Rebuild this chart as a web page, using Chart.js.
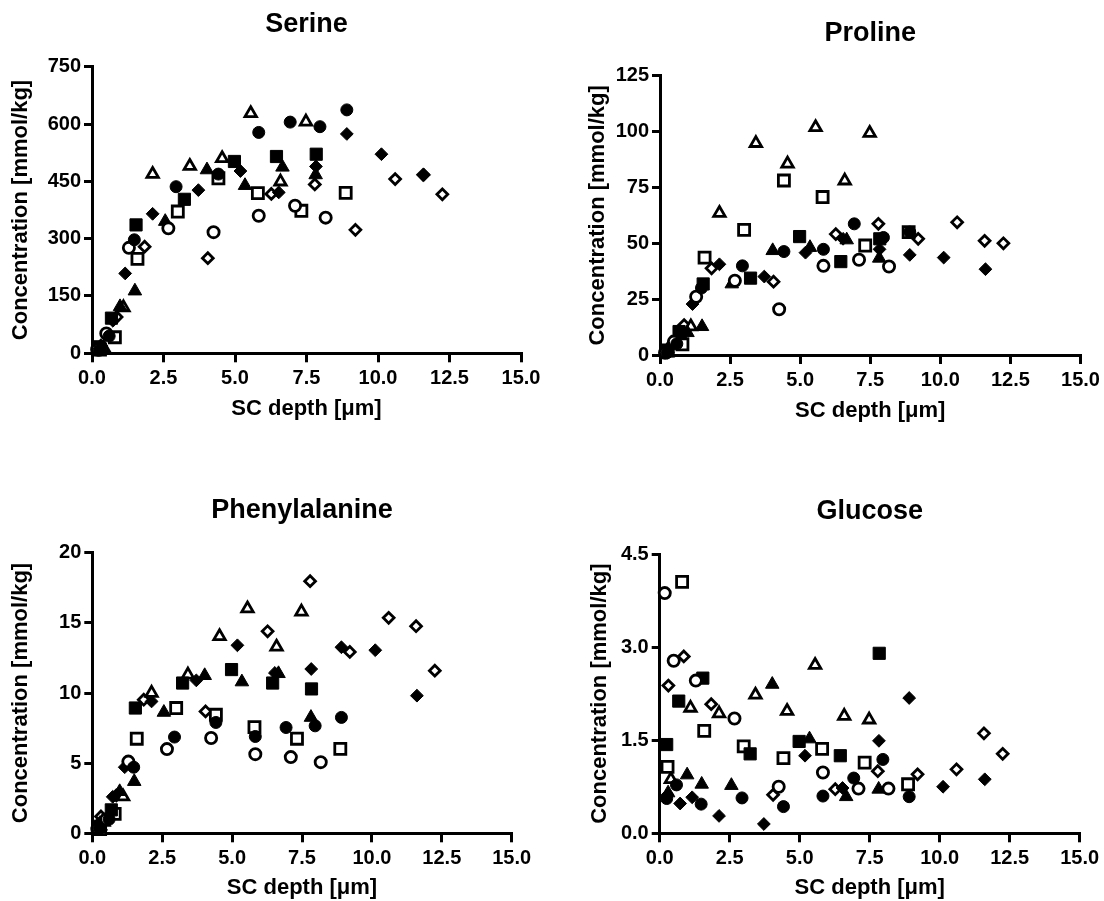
<!DOCTYPE html>
<html>
<head>
<meta charset="utf-8">
<title>Concentration vs SC depth</title>
<script src="https://cdn.jsdelivr.net/npm/chart.js@4.4.1/dist/chart.umd.min.js"></script>
<style>
    body { margin: 0; background: #fff; }
    #page { position: relative; width: 1104px; height: 901px; overflow: hidden; }
    canvas { position: absolute; }
</style>
</head>
<body>
<div id="page">
    <canvas id="serine-chart"></canvas>
    <canvas id="proline-chart"></canvas>
    <canvas id="phe-chart"></canvas>
    <canvas id="glucose-chart"></canvas>
</div>
<script>
// SC depth [um] of each tape strip, one array per subject (marker)
const depthFilledCircle = [0.25, 0.6, 1.48, 2.94, 4.42, 5.83, 6.93, 7.97, 8.91];
const depthOpenCircle   = [0.18, 0.5, 1.29, 2.67, 4.25, 5.83, 7.1, 8.17];
const depthFilledSquare = [0.25, 0.68, 1.54, 3.23, 4.98, 6.45, 7.84];
const depthOpenSquare   = [0.28, 0.8, 1.59, 3.0, 4.42, 5.8, 7.32, 8.87];
const depthFilledTri    = [0.3, 0.98, 1.5, 2.56, 4.02, 5.35, 6.66, 7.82];
const depthOpenTri      = [0.4, 1.1, 2.12, 3.42, 4.55, 5.55, 6.59, 7.48];
const depthFilledDia    = [0.28, 0.73, 1.16, 2.12, 3.72, 5.19, 6.53, 7.83, 8.91, 10.12, 11.61];
const depthOpenDia      = [0.31, 0.86, 1.84, 4.05, 6.27, 7.79, 9.21, 10.6, 11.58, 12.25];

// Serine [mmol/kg]
const serFC = [8, 45, 297, 436, 469, 578, 605, 593, 637];
const serOC = [10, 52, 276, 327, 317, 360, 386, 355];
const serFS = [17, 92, 336, 403, 502, 515, 521];
const serOS = [10, 42, 247, 371, 458, 419, 373, 420];
const serFT = [12, 122, 163, 345, 480, 439, 487, 467];
const serOT = [15, 120, 469, 490, 510, 628, 449, 606];
const serFD = [15, 85, 209, 365, 427, 477, 421, 489, 574, 521, 467];
const serOD = [20, 95, 279, 249, 417, 442, 323, 456, 467, 416];

// Proline [mmol/kg]
const proFC = [1, 5, 30, 39.9, 46.3, 47.3, 58.7, 52.6, 55];
const proOC = [1, 6, 26.1, 33.2, 20.5, 39.9, 42.6, 39.6];
const proFS = [2, 10.5, 31.8, 34.4, 53, 41.8, 52];
const proOS = [2, 4.8, 43.6, 56, 78.1, 70.7, 49, 55];
const proFT = [1, 10, 12.7, 31.8, 46.7, 48.1, 51.5, 43.3];
const proOT = [5, 12.7, 63.5, 94.8, 85.6, 101.9, 78, 99.3];
const proFD = [1, 8, 22.8, 40.6, 35.1, 45.8, 52, 47.3, 44.8, 43.6, 38.4];
const proOD = [3, 13.4, 38.8, 32.8, 54.1, 58.7, 52, 59.4, 51.1, 50];

// Phenylalanine [mmol/kg]
const pheFC = [0.3, 1.0, 4.71, 6.86, 7.9, 6.9, 7.54, 7.66, 8.26];
const pheOC = [0.3, 1.0, 5.11, 6.0, 6.79, 5.64, 5.43, 5.07];
const pheFS = [0.5, 1.67, 8.93, 10.71, 11.67, 10.71, 10.29];
const pheOS = [0.3, 1.38, 6.74, 8.93, 8.45, 7.57, 6.74, 6.02];
const pheFT = [0.5, 2.97, 3.69, 8.62, 11.24, 10.79, 11.38, 8.26];
const pheOT = [0.8, 2.62, 10.0, 11.3, 14.04, 16.02, 13.29, 15.79];
const pheFD = [0.8, 2.6, 4.71, 9.4, 10.9, 13.4, 11.43, 11.71, 13.26, 13.05, 9.81];
const pheOD = [1.2, 2.7, 9.52, 8.69, 14.4, 17.97, 12.93, 15.36, 14.76, 11.59];

// Glucose [mmol/kg]
const gluFC = [0.56, 0.78, 0.47, 0.57, 0.43, 0.60, 0.89, 1.19, 0.59];
const gluOC = [3.87, 2.78, 2.46, 1.85, 0.75, 0.98, 0.72, 0.72];
const gluFS = [1.43, 2.13, 2.50, 1.28, 1.48, 1.25, 2.90];
const gluOS = [1.07, 4.05, 1.65, 1.40, 1.21, 1.36, 1.14, 0.79];
const gluFT = [0.65, 0.94, 0.79, 0.77, 2.40, 1.52, 0.59, 0.71];
const gluOT = [0.87, 2.02, 1.93, 2.23, 1.97, 2.71, 1.89, 1.83];
const gluFD = [0.62, 0.48, 0.58, 0.28, 0.15, 1.25, 0.73, 1.49, 2.18, 0.75, 0.87];
const gluOD = [2.38, 2.85, 2.08, 0.62, 0.71, 1.0, 0.95, 1.03, 1.61, 1.28];

const xTicks = [0, 2.5, 5, 7.5, 10, 12.5, 15];

const FONT = "'Liberation Sans', Arial, sans-serif";

// marker look for each subject
const markers = [
    { depth: depthFilledCircle, style: 'circle',   filled: true,  radius: 6 },
    { depth: depthOpenCircle,   style: 'circle',   filled: false, radius: 5.6 },
    { depth: depthFilledSquare, style: 'rect',     filled: true,  radius: 8.6 },
    { depth: depthOpenSquare,   style: 'rect',     filled: false, radius: 7.8 },
    { depth: depthFilledTri,    style: 'triangle', filled: true,  radius: 7.8 },
    { depth: depthOpenTri,      style: 'triangle', filled: false, radius: 6.6 },
    { depth: depthFilledDia,    style: 'rectRot',  filled: true,  radius: 6.4 },
    { depth: depthOpenDia,      style: 'rectRot',  filled: false, radius: 5.4 },
];

// canvas box (cx, cy, cw, ch) and wanted plot area / text positions in page pixels
const panels = [
    { id: 'serine-chart', title: 'Serine', yMax: 750, yStep: 150, decimals: 0,
      values: [serFC, serOC, serFS, serOS, serFT, serOT, serFD, serOD],
      cx: 0, cy: 0, cw: 552, ch: 450, L: 92, T: 66.7, R: 521, B: 353.3,
      titleY: 24.5, yTitleX: 21, xTitleY: 409 },
    { id: 'proline-chart', title: 'Proline', yMax: 125, yStep: 25, decimals: 0,
      values: [proFC, proOC, proFS, proOS, proFT, proOT, proFD, proOD],
      cx: 552, cy: 0, cw: 552, ch: 450, L: 660, T: 75.7, R: 1080.5, B: 355,
      titleY: 34, yTitleX: 598, xTitleY: 411 },
    { id: 'phe-chart', title: 'Phenylalanine', yMax: 20, yStep: 5, decimals: 0,
      values: [pheFC, pheOC, pheFS, pheOS, pheFT, pheOT, pheFD, pheOD],
      cx: 0, cy: 450, cw: 552, ch: 451, L: 92.3, T: 552.7, R: 511.7, B: 833.3,
      titleY: 510.7, yTitleX: 21, xTitleY: 888 },
    { id: 'glucose-chart', title: 'Glucose', yMax: 4.5, yStep: 1.5, decimals: 1,
      values: [gluFC, gluOC, gluFS, gluOS, gluFT, gluOT, gluFD, gluOD],
      cx: 552, cy: 450, cw: 552, ch: 451, L: 659.7, T: 554, R: 1079.7, B: 833.3,
      titleY: 512, yTitleX: 600, xTitleY: 888 },
];

function makeDatasets(values) {
    return markers.map((m, i) => ({
        data: m.depth.map((x, j) => ({ x: x, y: values[i][j] })),
        pointStyle: m.style,
        pointRadius: m.radius,
        pointHoverRadius: m.radius,
        pointBackgroundColor: m.filled ? '#000' : '#fff',
        pointBorderColor: '#000',
        pointBorderWidth: m.filled ? 1 : 2.8,
        showLine: false,
        clip: false,
    }));
}

function drawPanel(p) {
    const canvas = document.getElementById(p.id);
    canvas.width = p.cw;
    canvas.height = p.ch;
    canvas.style.left = p.cx + 'px';
    canvas.style.top = p.cy + 'px';

    const titleLH = 27 * 1.2;
    const titleTop = p.titleY - p.cy - titleLH / 2;
    const titleBottom = p.T - p.cy - titleTop - titleLH;
    const axisLH = 22;

    new Chart(canvas.getContext('2d'), {
        type: 'scatter',
        data: { datasets: makeDatasets(p.values) },
        options: {
            responsive: false,
            animation: false,
            events: [],
            layout: { padding: { left: 0, top: 0, bottom: 0, right: p.cx + p.cw - p.R } },
            plugins: {
                legend: { display: false },
                tooltip: { enabled: false },
                title: {
                    display: true,
                    text: p.title,
                    fullSize: false,
                    color: '#000',
                    font: { family: FONT, size: 27, weight: 'bold', lineHeight: 1.2 },
                    padding: { top: titleTop, bottom: titleBottom },
                },
            },
            scales: {
                x: {
                    type: 'linear',
                    min: 0,
                    max: 15,
                    afterBuildTicks: (scale) => { scale.ticks = xTicks.map(v => ({ value: v })); },
                    afterFit: (scale) => { scale.height = p.cy + p.ch - p.B; },
                    border: { display: true, color: '#000', width: 3 },
                    grid: { drawOnChartArea: false, drawTicks: true, tickLength: 9, color: '#000', lineWidth: 3 },
                    ticks: {
                        autoSkip: false,
                        maxRotation: 0,
                        padding: 4,
                        color: '#000',
                        font: { family: FONT, size: 20, weight: 'bold' },
                        callback: (v) => Number(v).toFixed(1),
                    },
                    title: {
                        display: true,
                        text: 'SC depth [\u03bcm]',
                        color: '#000',
                        font: { family: FONT, size: 22, weight: 'bold', lineHeight: 1 },
                        padding: { top: 0, bottom: p.cy + p.ch - p.xTitleY - axisLH / 2 },
                    },
                },
                y: {
                    type: 'linear',
                    min: 0,
                    max: p.yMax,
                    afterFit: (scale) => { scale.width = p.L - p.cx; },
                    border: { display: true, color: '#000', width: 3 },
                    grid: { drawOnChartArea: false, drawTicks: true, tickLength: 8, color: '#000', lineWidth: 3 },
                    ticks: {
                        stepSize: p.yStep,
                        padding: 3,
                        color: '#000',
                        font: { family: FONT, size: 20, weight: 'bold' },
                        callback: (v) => Number(v).toFixed(p.decimals),
                    },
                    title: {
                        display: true,
                        text: 'Concentration [mmol/kg]',
                        color: '#000',
                        font: { family: FONT, size: 22, weight: 'bold', lineHeight: 1 },
                        padding: { top: p.yTitleX - p.cx - axisLH / 2, bottom: 0 },
                    },
                },
            },
        },
    });
}

panels.forEach(drawPanel);
</script>
</body>
</html>
